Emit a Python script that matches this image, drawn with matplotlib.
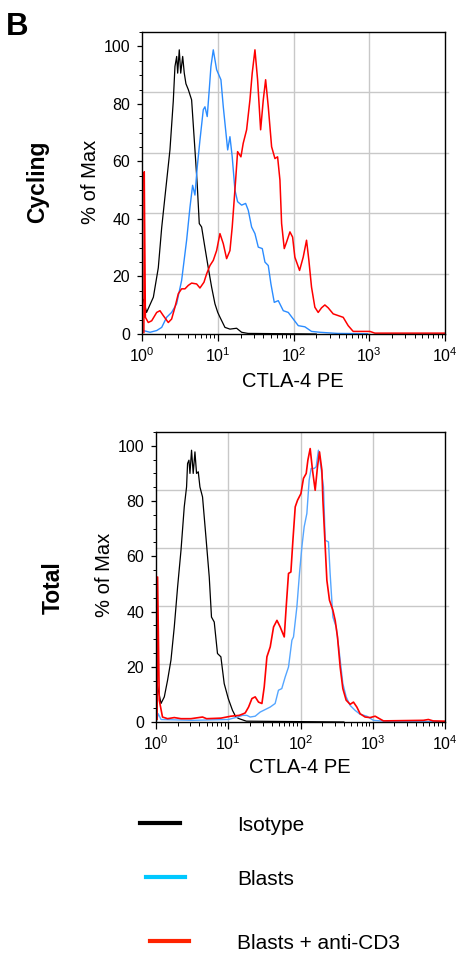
"""CTLA-4 PE histograms (% of Max) for cycling and total cells."""
import numpy as np
import matplotlib

matplotlib.use("Agg")
import matplotlib.pyplot as plt
from matplotlib.lines import Line2D
from matplotlib.ticker import MultipleLocator, LogLocator

plt.rcParams["font.family"] = ["Liberation Sans", "DejaVu Sans"]
plt.rcParams["mathtext.fontset"] = "custom"
plt.rcParams["mathtext.rm"] = "Liberation Sans"
plt.rcParams["mathtext.it"] = "Liberation Sans:italic"
plt.rcParams["mathtext.bf"] = "Liberation Sans:bold"

# values: log10(CTLA-4 PE) and % of max
cyc_iso_log = [0.02, 0.06, 0.15, 0.215, 0.26, 0.303, 0.369, 0.413, 0.435, 0.458, 0.471, 0.492,
               0.511, 0.537, 0.558, 0.58, 0.611, 0.655, 0.699, 0.729, 0.756, 0.787, 0.831,
               0.875, 0.919, 0.963, 1.0, 1.03, 1.095, 1.161, 1.249, 1.315, 1.4, 2.3]
cyc_iso_pct = [12.0, 7.5, 12.8, 23.0, 37.0, 47.7, 64.0, 81.0, 93.0, 96.5, 90.7, 98.8,
               90.7, 96.5, 90.7, 87.0, 85.0, 81.4, 64.0, 52.0, 38.4, 37.2, 30.0,
               23.0, 16.3, 10.5, 7.5, 5.8, 2.3, 1.7, 2.0, 0.6, 0.2, 0.0]

cyc_blast_log = [0.017, 0.106, 0.194, 0.26, 0.325, 0.391, 0.457, 0.523, 0.589, 0.633, 0.668,
                 0.699, 0.729, 0.765, 0.809, 0.831, 0.861, 0.888, 0.91, 0.941, 0.985, 1.042,
                 1.073, 1.131, 1.161, 1.191, 1.227, 1.262, 1.315, 1.368, 1.403, 1.447, 1.491,
                 1.535, 1.588, 1.623, 1.667, 1.702, 1.746, 1.799, 1.865, 1.931, 1.997, 2.063,
                 2.15, 2.238, 2.348, 2.58, 2.98]
cyc_blast_pct = [1.2, 0.6, 1.2, 2.3, 5.8, 7.5, 10.5, 18.6, 32.6, 44.0, 51.7,
                 48.3, 58.0, 67.4, 78.0, 79.0, 75.6, 85.0, 93.0, 98.8, 91.9, 88.4,
                 79.0, 64.0, 68.6, 61.6, 50.0, 46.0, 44.8, 45.4, 43.0, 37.2, 34.9,
                 30.2, 29.7, 25.0, 23.8, 17.4, 11.0, 11.6, 8.1, 7.5, 5.2, 2.9,
                 2.5, 0.9, 0.6, 0.2, 0.1]

cyc_cd3_log = [0.025, 0.03, 0.045, 0.083, 0.128, 0.194, 0.237, 0.281, 0.347, 0.391, 0.435,
               0.479, 0.523, 0.567, 0.611, 0.655, 0.721, 0.765, 0.818, 0.853, 0.897, 0.941,
               0.985, 1.029, 1.073, 1.117, 1.161, 1.191, 1.236, 1.262, 1.306, 1.336, 1.381,
               1.425, 1.455, 1.491, 1.526, 1.566, 1.601, 1.632, 1.667, 1.711, 1.755, 1.79,
               1.821, 1.843, 1.878, 1.909, 1.953, 1.988, 2.018, 2.08, 2.128, 2.172, 2.203,
               2.238, 2.282, 2.326, 2.37, 2.414, 2.458, 2.524, 2.59, 2.656, 2.722, 2.788,
               2.942, 3.008, 3.074, 4.0]
cyc_cd3_pct = [0.5, 56.4, 5.8, 4.0, 4.6, 7.5, 8.1, 6.4, 4.0, 5.2, 9.3,
               14.0, 15.7, 15.7, 16.9, 17.7, 17.4, 16.0, 18.0, 20.9, 23.8, 25.6,
               29.0, 34.9, 31.4, 26.2, 29.0, 37.2, 53.5, 63.4, 61.6, 66.3, 71.0,
               81.4, 90.7, 98.8, 88.4, 71.0, 81.4, 88.4, 79.0, 65.1, 61.0, 61.6,
               53.5, 38.4, 29.7, 32.0, 35.5, 33.7, 26.7, 22.1, 26.7, 32.6, 25.6,
               16.3, 9.3, 7.5, 9.1, 10.1, 9.1, 7.0, 6.4, 5.8, 2.9, 0.9,
               0.9, 0.9, 0.3, 0.3]

tot_iso_log = [0.01, 0.069, 0.115, 0.16, 0.207, 0.253, 0.299, 0.346, 0.391, 0.423, 0.437,
               0.456, 0.47, 0.492, 0.515, 0.539, 0.561, 0.585, 0.608, 0.644, 0.691, 0.737,
               0.768, 0.806, 0.851, 0.898, 0.944, 1.0, 1.059, 1.106, 1.151, 1.25, 2.6]
tot_iso_pct = [14.5, 6.7, 9.1, 15.1, 22.4, 34.4, 48.9, 62.2, 77.9, 85.1, 93.6,
               94.8, 90.0, 98.4, 90.0, 97.8, 90.0, 90.6, 85.1, 81.5, 67.0, 52.5,
               38.0, 36.2, 24.8, 23.6, 13.9, 8.5, 4.2, 1.8, 1.2, 0.3, 0.0]

tot_blast_log = [0.01, 0.03, 0.07, 0.5, 1.0, 1.129, 1.198, 1.258, 1.304, 1.373, 1.442, 1.511,
                 1.58, 1.649, 1.695, 1.741, 1.788, 1.834, 1.881, 1.903, 1.95, 1.986, 2.019,
                 2.051, 2.088, 2.12, 2.147, 2.189, 2.217, 2.248, 2.282, 2.318, 2.342, 2.387,
                 2.41, 2.448, 2.494, 2.539, 2.586, 2.632, 2.687, 2.756, 2.825, 2.918, 3.01,
                 3.102, 3.3, 4.0]
tot_blast_pct = [0.5, 3.0, 0.9, 0.6, 0.9, 1.8, 2.4, 2.4, 1.8, 2.1, 3.6, 4.5,
                 5.4, 6.7, 11.5, 12.1, 16.3, 19.9, 29.6, 30.8, 41.7, 53.8, 63.4,
                 70.7, 75.5, 87.6, 91.8, 91.8, 92.4, 98.4, 92.4, 85.1, 65.8, 65.2,
                 53.8, 38.0, 34.4, 24.8, 13.9, 9.1, 6.0, 4.2, 2.8, 2.1, 0.6,
                 0.4, 0.1, 0.1]

tot_cd3_log = [0.015, 0.022, 0.045, 0.09, 0.16, 0.253, 0.346, 0.484, 0.644, 0.7, 0.899, 1.037,
               1.151, 1.211, 1.235, 1.281, 1.328, 1.373, 1.419, 1.466, 1.498, 1.535, 1.581,
               1.627, 1.674, 1.719, 1.775, 1.802, 1.834, 1.867, 1.895, 1.927, 1.959, 2.006,
               2.041, 2.079, 2.102, 2.134, 2.166, 2.203, 2.235, 2.263, 2.296, 2.31, 2.342,
               2.365, 2.401, 2.448, 2.48, 2.512, 2.549, 2.586, 2.632, 2.687, 2.733, 2.78,
               2.825, 2.894, 2.964, 3.033, 3.093, 3.148, 3.701, 3.77, 3.835, 4.0]
tot_cd3_pct = [1.0, 52.5, 7.9, 1.8, 1.2, 1.6, 1.2, 1.2, 1.8, 1.2, 1.4, 2.1,
               2.4, 3.0, 3.3, 5.4, 8.5, 9.1, 7.2, 6.7, 12.7, 23.6, 27.2,
               34.4, 36.8, 34.4, 30.8, 41.7, 53.8, 54.3, 65.8, 77.9, 80.3, 82.7,
               88.2, 90.0, 94.8, 99.0, 91.2, 83.9, 92.4, 97.8, 91.2, 80.3, 63.4,
               51.3, 44.1, 40.5, 36.8, 30.8, 19.9, 12.1, 7.9, 6.4, 7.2, 5.4,
               3.0, 1.8, 1.6, 2.1, 1.2, 0.4, 0.6, 0.9, 0.4, 0.3]

series_names = ["Isotype", "Blasts", "Blasts + anti-CD3"]
row_names = ["Cycling", "Total"]


def draw_panel(ax, curves, colors, widths):
    for (lx, pct), c, w in zip(curves, colors, widths):
        ax.plot(10 ** np.asarray(lx), pct, color=c, lw=w)
    ax.set_xscale("log")
    ax.set_xlim(1, 1e4)
    ax.set_ylim(0, 105)
    ax.xaxis.set_major_locator(LogLocator(base=10, numticks=10))
    ax.xaxis.set_minor_locator(LogLocator(base=10, subs=np.arange(2, 10), numticks=20))
    ax.yaxis.set_major_locator(MultipleLocator(20))
    ax.yaxis.set_minor_locator(MultipleLocator(5))
    ax.tick_params(axis="y", which="major", length=3.5, width=0.9, labelsize=11.5, pad=5)
    ax.tick_params(axis="y", which="minor", length=2, width=0.7)
    ax.tick_params(axis="x", which="major", length=5, width=0.9, labelsize=11.5, pad=4)
    ax.tick_params(axis="x", which="minor", length=3, width=0.7)
    for s in ax.spines.values():
        s.set_linewidth(1.0)
    # grey grid: horizontal lines split the 0-105 range in fifths
    for g in np.linspace(0, 105, 6)[1:-1]:
        ax.axhline(g, xmin=0, xmax=1.01, color="#c8c8c8", lw=1.0, zorder=0, clip_on=False)
    for d in [10, 100, 1000]:
        ax.axvline(d, color="#c8c8c8", lw=1.0, zorder=0)


def main():
    fig = plt.figure(figsize=(4.59, 9.56), dpi=100)
    W, H = 459, 956

    ax1 = fig.add_axes([142 / W, 1 - 334 / H, 303 / W, 302 / H])
    ax2 = fig.add_axes([156 / W, 1 - 722 / H, 289 / W, 290 / H])

    draw_panel(ax1,
               [(cyc_iso_log, cyc_iso_pct), (cyc_blast_log, cyc_blast_pct),
                (cyc_cd3_log, cyc_cd3_pct)],
               ["black", "#2b8cff", "#ff0000"], [0.9, 1.0, 1.1])
    draw_panel(ax2,
               [(tot_iso_log, tot_iso_pct), (tot_blast_log, tot_blast_pct),
                (tot_cd3_log, tot_cd3_pct)],
               ["black", "#55a6ff", "#ff0000"], [0.9, 1.0, 1.2])

    # axis titles and row labels
    fig.text(90 / W, 1 - 182 / H, "% of Max", rotation=90, ha="center", va="center", size=14.5)
    fig.text(105 / W, 1 - 575 / H, "% of Max", rotation=90, ha="center", va="center", size=14.5)
    fig.text(293 / W, 1 - 387 / H, "CTLA-4 PE", ha="center", va="baseline", size=14.5)
    fig.text(300 / W, 1 - 773 / H, "CTLA-4 PE", ha="center", va="baseline", size=14.5)
    fig.text(38 / W, 1 - 182 / H, row_names[0], rotation=90, ha="center", va="center",
             size=16.5, weight="bold")
    fig.text(53 / W, 1 - 588 / H, row_names[1], rotation=90, ha="center", va="center",
             size=16.5, weight="bold")
    fig.text(6 / W, 1 - 35 / H, "B", ha="left", va="baseline", size=22.5, weight="bold")

    # hand-made legend at the bottom
    keys = [(140, 180, 823, "black"), (146, 185, 877, "#00c8ff"), (150, 189, 941, "#ff2200")]
    for (x0, x1, y, c), name in zip(keys, series_names):
        fig.add_artist(Line2D([x0 / W, x1 / W], [1 - y / H, 1 - y / H], color=c, lw=3,
                              transform=fig.transFigure))
        fig.text(237 / W, 1 - (y + 8) / H, name, ha="left", va="baseline", size=15)

    fig.savefig("out.png", dpi=100)


if __name__ == "__main__":
    main()
